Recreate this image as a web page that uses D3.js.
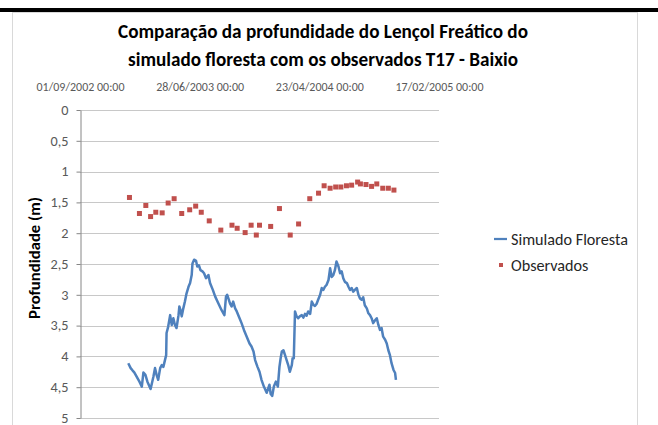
<!DOCTYPE html>
<html>
<head>
<meta charset="utf-8">
<script src="https://cdn.jsdelivr.net/npm/d3@7"></script>
<style>
  body { margin: 0; background: #fff; }
  svg text { font-family: Carlito, Lato, 'Open Sans', sans-serif; }
</style>
</head>
<body>
<div id="holder"></div>
<script>
// datas em número de série do Excel (37500 = 01/09/2002)
const simuladoDias = [
  37621, 37627, 37632, 37636, 37642, 37649, 37655, 37659, 37664, 37669, 37677, 37684, 37688, 37692, 37696,
  37701, 37705, 37709, 37713, 37716, 37717, 37721, 37726, 37730, 37734, 37738, 37742, 37747, 37749, 37752,
  37755, 37759, 37763, 37767, 37772, 37776, 37780, 37782, 37786, 37791, 37794, 37798, 37802, 37807, 37811,
  37816, 37822, 37826, 37833, 37839, 37847, 37855, 37862, 37866, 37869, 37873, 37876, 37880, 37884, 37889,
  37893, 37900, 37905, 37911, 37918, 37925, 37930, 37935, 37939, 37945, 37950, 37955, 37961, 37968, 37975,
  37978, 37982, 37986, 37991, 37996, 38000, 38003, 38006, 38010, 38014, 38022, 38026, 38031, 38033, 38036,
  38039, 38043, 38047, 38051, 38056, 38060, 38064, 38068, 38072, 38077, 38081, 38085, 38089, 38093, 38097,
  38102, 38106, 38110, 38114, 38118, 38123, 38127, 38131, 38135, 38139, 38143, 38148, 38152, 38156, 38160,
  38164, 38169, 38173, 38177, 38181, 38185, 38189, 38194, 38198, 38202, 38206, 38210, 38214, 38219, 38223,
  38227, 38231, 38235, 38240, 38244, 38248, 38252, 38256, 38260, 38265, 38269, 38273, 38277, 38281, 38286,
  38290, 38292
];
const simuladoProf = [
  4.11, 4.19, 4.23, 4.26, 4.33, 4.41, 4.49, 4.26, 4.30, 4.41, 4.53, 4.33, 4.19, 4.30, 4.38,
  4.19, 4.14, 4.17, 4.06, 3.98, 3.62, 3.52, 3.33, 3.49, 3.38, 3.49, 3.54, 3.33, 3.19, 3.25,
  3.35, 3.22, 3.11, 2.98, 2.87, 2.81, 2.68, 2.49, 2.43, 2.45, 2.54, 2.52, 2.60, 2.62, 2.65,
  2.73, 2.68, 2.81, 2.92, 3.03, 3.14, 3.25, 3.33, 3.03, 3.00, 3.08, 3.14, 3.19, 3.11, 3.22,
  3.27, 3.38, 3.46, 3.57, 3.68, 3.79, 3.84, 3.92, 4.06, 4.17, 4.25, 4.38, 4.49, 4.59, 4.46,
  4.61, 4.64, 4.49, 4.41, 4.49, 4.17, 4.03, 3.92, 3.90, 3.98, 4.14, 4.25, 4.14, 4.03, 4.03,
  3.27, 3.35, 3.38, 3.35, 3.33, 3.37, 3.31, 3.34, 3.27, 3.31, 3.11, 3.16, 3.18, 3.15, 3.08,
  3.00, 2.89, 2.92, 2.87, 2.84, 2.76, 2.57, 2.71, 2.68, 2.60, 2.46, 2.54, 2.65, 2.62, 2.73,
  2.79, 2.81, 2.87, 2.92, 2.89, 2.95, 2.92, 2.89, 3.00, 3.06, 3.08, 3.04, 3.17, 3.22, 3.30,
  3.33, 3.38, 3.46, 3.41, 3.38, 3.49, 3.57, 3.54, 3.68, 3.73, 3.79, 3.90, 3.98, 4.11, 4.22,
  4.27, 4.38
];
const observadoDias = [
  37624, 37649, 37665, 37677, 37690, 37706, 37721, 37736, 37755, 37775, 37790, 37804, 37824, 37853,
  37881, 37894, 37914, 37929, 37942, 37950, 37978, 38000, 38027, 38048, 38076, 38098, 38112, 38127,
  38141, 38154, 38168, 38181, 38196, 38203, 38217, 38231, 38244, 38259, 38273, 38287
];
const observadoProf = [
  1.42, 1.68, 1.55, 1.73, 1.66, 1.67, 1.51, 1.44, 1.68, 1.62, 1.56, 1.66, 1.80, 1.95,
  1.87, 1.92, 1.99, 1.87, 2.03, 1.87, 1.89, 1.60, 2.03, 1.85, 1.44, 1.35, 1.23, 1.27,
  1.25, 1.25, 1.23, 1.22, 1.17, 1.20, 1.21, 1.24, 1.20, 1.27, 1.27, 1.30
];
const tickDias = [37500, 37800, 38100, 38400];
const tickProf = [0, 0.5, 1, 1.5, 2, 2.5, 3, 3.5, 4, 4.5, 5];
const nomesSeries = ['Simulado Floresta', 'Observados'];
const tituloLinhas = ['Comparação da profundidade do Lençol Freático do', 'simulado floresta com os observados T17 - Baixio'];
const tituloEixoY = 'Profundidade (m)';

let cfg = {
  width: 658,
  height: 425,
  lineColor: '#4F81BD',
  markColor: '#C0504D',
  gridColor: '#C8C8C8',
  axisColor: '#868686',
  plot: { left: 80, right: 439, top: 110, bottom: 418 }
};

const svg = d3.select('#holder').append('svg')
  .attr('width', cfg.width)
  .attr('height', cfg.height);

// ajusta o tamanho da fonte para a largura medida na figura
function ajustaFonte (sel, tam, alvo) {
  let len = sel.node().getComputedTextLength();
  let novo = tam * alvo / len;
  sel.style('font-size', novo.toFixed(2) + 'px');
  return novo;
}

// moldura do gráfico e a barra preta do topo
svg.append('rect').attr('x', 12.5).attr('y', 12.5).attr('width', 625).attr('height', 430)
  .attr('fill', '#fff').attr('stroke', '#D9D9D9').attr('stroke-width', 1);
svg.append('rect').attr('x', 0).attr('y', 8).attr('width', cfg.width).attr('height', 4).attr('fill', '#000');

// converte série do Excel para data
const serialParaData = s => new Date(Date.UTC(1899, 11, 30) + s * 864e5);
const fmtData = d3.utcFormat('%d/%m/%Y %H:%M');
const ptBR = d3.formatLocale({ decimal: ',', thousands: '.', grouping: [3], currency: ['R$', ''] });
const fmtProf = ptBR.format('~g');

const x = d3.scaleLinear().domain([tickDias[0], tickDias[tickDias.length - 1]]).range([cfg.plot.left, cfg.plot.right]);
const y = d3.scaleLinear().domain([0, 5]).range([cfg.plot.top, cfg.plot.bottom]);

// linhas de grade
svg.append('g').selectAll('line').data(tickProf).enter().append('line')
  .attr('x1', cfg.plot.left).attr('x2', cfg.plot.right)
  .attr('y1', d => Math.round(y(d)) + 0.5).attr('y2', d => Math.round(y(d)) + 0.5)
  .attr('stroke', cfg.gridColor).attr('stroke-width', 1);

// eixo Y (invertido)
const eixoY = svg.append('g')
  .attr('transform', `translate(${cfg.plot.left + 0.5},0)`)
  .call(d3.axisLeft(y).tickValues(tickProf).tickFormat(fmtProf).tickSize(4).tickPadding(8).tickSizeOuter(0));
eixoY.select('.domain').attr('stroke', cfg.axisColor);
eixoY.selectAll('.tick line').attr('stroke', cfg.axisColor);
let tickTxt = eixoY.selectAll('.tick text').attr('fill', '#595959').style('font-size', '11px');
let tamTick = ajustaFonte(tickTxt.filter(d => d === 4.5), 11, 18);
tickTxt.style('font-size', tamTick.toFixed(2) + 'px').attr('dy', '0.3em');

// eixo X no topo (datas)
const eixoX = svg.append('g')
  .attr('transform', `translate(0,${cfg.plot.top})`)
  .call(d3.axisTop(x).tickValues(tickDias).tickFormat(d => fmtData(serialParaData(d))).tickSize(0).tickPadding(19));
eixoX.select('.domain').remove();
let dataTxt = eixoX.selectAll('.tick text').attr('fill', '#595959').style('font-size', '10px');
let tamData = ajustaFonte(dataTxt.filter((d, i) => i === 0), 10, 88);
dataTxt.style('font-size', tamData.toFixed(2) + 'px');

// título
const titulo = svg.append('g');
tituloLinhas.forEach((t, i) => {
  let txt = titulo.append('text')
    .attr('x', 323).attr('y', 38 + i * 28)
    .attr('text-anchor', 'middle')
    .attr('fill', '#000')
    .style('font-weight', 'bold')
    .style('font-size', '18px')
    .text(t);
  ajustaFonte(txt, 18, i === 0 ? 410 : 390);
});

let tituloY = svg.append('text')
  .attr('transform', 'translate(40,258) rotate(-90)')
  .attr('text-anchor', 'middle')
  .attr('fill', '#000')
  .style('font-weight', 'bold')
  .style('font-size', '13px')
  .text(tituloEixoY);
ajustaFonte(tituloY, 13, 122);

// série simulada
const linha = d3.line().x((d, i) => x(simuladoDias[i])).y(d => y(d));
svg.append('path')
  .attr('d', linha(simuladoProf))
  .attr('fill', 'none')
  .attr('stroke', cfg.lineColor)
  .attr('stroke-width', 2.5)
  .attr('stroke-linejoin', 'round');

// observados
svg.append('g').selectAll('rect').data(observadoProf).enter().append('rect')
  .attr('x', (d, i) => x(observadoDias[i]) - 2.5)
  .attr('y', d => y(d) - 2.5)
  .attr('width', 5).attr('height', 5)
  .attr('fill', cfg.markColor);

// legenda
const leg = svg.append('g');
leg.append('line').attr('x1', 494).attr('x2', 507).attr('y1', 239).attr('y2', 239)
  .attr('stroke', cfg.lineColor).attr('stroke-width', 2.25);
leg.append('rect').attr('x', 499).attr('y', 263).attr('width', 4).attr('height', 4).attr('fill', cfg.markColor);
let legTxt = leg.selectAll('text').data(nomesSeries).enter().append('text')
  .attr('x', 511).attr('y', (d, i) => 239 + i * 26)
  .attr('dy', '0.35em')
  .attr('fill', '#262626')
  .style('font-size', '13px')
  .text(d => d);
let tamLeg = ajustaFonte(legTxt.filter((d, i) => i === 0), 13, 117);
legTxt.style('font-size', tamLeg.toFixed(2) + 'px');
</script>
</body>
</html>
